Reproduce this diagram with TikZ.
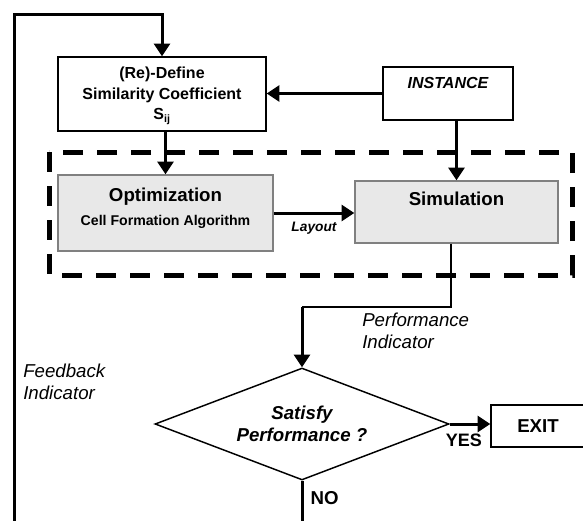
\documentclass[tikz,border=0pt]{standalone}
\usepackage{fontspec}
\setmainfont{Liberation Sans}
\usetikzlibrary{arrows.meta}
\usetikzlibrary{shapes.geometric}
\definecolor{boxgray}{RGB}{232,232,232}
\definecolor{edgegray}{RGB}{128,128,128}
\tikzset{
  plainbox/.style={draw, line width=1.1pt, inner sep=0pt},
  graybox/.style={draw=edgegray, fill=boxgray, line width=1.1pt, inner sep=0pt},
  flow/.style={line width=2.25pt, -{Triangle[length=9.5pt,width=12pt]}},
  thinflow/.style={line width=1.1pt},
}

\begin{document}
\begin{tikzpicture}[x=0.75pt,y=-0.75pt]
\useasboundingbox (0,0) rectangle (583,521);

% dashed frame round optimization and simulation
\draw[line width=3.75pt, dash pattern=on 15pt off 10.5pt] (49,152) rectangle (572,275);

\node[plainbox, minimum width=156pt, minimum height=55.5pt, align=center, text depth=1pt,
  font=\bfseries\fontsize{12}{15.4}\selectfont] (define) at (162,94)
  {(Re)-Define\\Similarity Coefficient\\S\textsubscript{ij}};
\node[plainbox, minimum width=97.5pt, minimum height=39.75pt, text depth=15.75pt,
  font=\bfseries\itshape\fontsize{12}{14}\selectfont] (instance) at (448,93.5) {INSTANCE};

\node[graybox, minimum width=161.25pt, minimum height=57pt, align=center, text depth=9pt,
  font=\bfseries] (optim) at (165.5,213)
  {\fontsize{14}{17}\selectfont Optimization\\[6pt]\fontsize{10.6}{13}\selectfont Cell Formation Algorithm};
\node[graybox, minimum width=152.25pt, minimum height=46.5pt, text depth=19.5pt,
  font=\bfseries\fontsize{14}{16}\selectfont] (sim) at (456.5,212) {Simulation};

\node[draw, diamond, aspect=2.625, minimum width=220.5pt, minimum height=84pt, inner sep=0pt,
  line width=1.1pt, align=center, font=\bfseries\itshape\fontsize{14}{16.5}\selectfont]
  (dec) at (302,424) {Satisfy\\Performance ?};
\node[plainbox, minimum width=70.5pt, minimum height=31.5pt,
  font=\bfseries\fontsize{14}{16}\selectfont] (exit) at (538,426) {EXIT};

\node[anchor=north west, align=left, inner sep=0pt,
  font=\itshape\fontsize{14}{16.5}\selectfont] (fblabel) at (23,364) {Feedback\\Indicator};
\node[anchor=north west, align=left, inner sep=0pt,
  font=\itshape\fontsize{14}{16}\selectfont] (perflabel) at (362,313) {Performance\\Indicator};

\coordinate (fbbot) at (14,521);
\coordinate (fbtop) at (14,14);
\coordinate (perf) at (451,307);
\coordinate (nobot) at (302,521);

% connectors
\draw[flow] (fbbot) -- (fbtop) -| (define.north);
\draw[flow] (instance.west) -- (instance.west -| define.east);
\draw[flow] (define.south -| optim.north) -- (optim.north);
\draw[flow] (instance.south -| sim.north) -- (sim.north);
\draw[flow] (optim.east) -- (optim.east -| sim.west)
  node[midway, below=2pt, font=\bfseries\itshape\fontsize{10.3}{12}\selectfont] (layout) {Layout};
\draw[thinflow] (sim.south -| perf) -- (perf) -- (perf -| dec.north);
\draw[flow] (perf -| dec.north) -- (dec.north);
\draw[flow] (dec.east) -- (dec.east -| exit.west)
  node[pos=0.35, below=3pt, font=\bfseries\fontsize{13.5}{16}\selectfont] (yes) {YES};
\draw[line width=2.25pt] (dec.south) -- (nobot)
  node[pos=0.42, right=2pt, font=\bfseries\fontsize{14}{16}\selectfont] (no) {NO};

\end{tikzpicture}
\end{document}
